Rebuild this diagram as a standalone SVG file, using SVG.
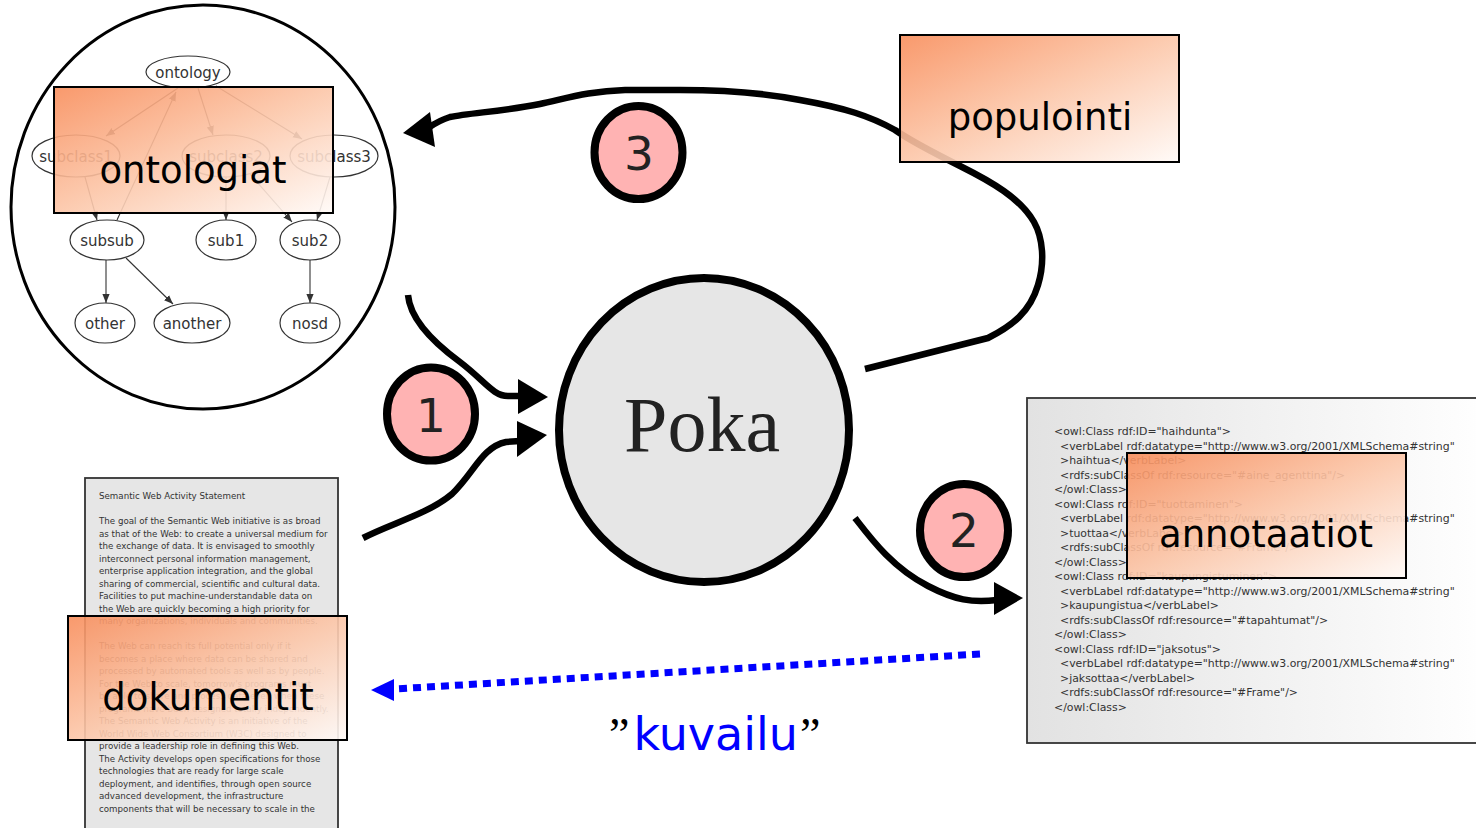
<svg xmlns="http://www.w3.org/2000/svg" width="1476" height="828" viewBox="0 0 1476 828">
<defs>
<linearGradient id="og" x1="0" y1="0" x2="1" y2="1">
<stop offset="0" stop-color="#f88e5c"/>
<stop offset="0.5" stop-color="#fcc6a8"/>
<stop offset="1" stop-color="#fffaf7"/>
</linearGradient>
<linearGradient id="cg" x1="0" y1="0" x2="1" y2="0">
<stop offset="0" stop-color="#e2e2e2"/>
<stop offset="1" stop-color="#ffffff"/>
</linearGradient>
<marker id="sa" viewBox="0 0 10 10" refX="10" refY="5" markerWidth="9" markerHeight="9" markerUnits="userSpaceOnUse" orient="auto">
<path d="M0,1 L10,5 L0,9 z" fill="#333"/>
</marker>
<style>
.big{fill:#fff;stroke:#000;stroke-width:3}
.sn{fill:#fff;stroke:#333;stroke-width:1.2}
.st{font-family:"DejaVu Sans",sans-serif;font-size:15px;fill:#333;text-anchor:middle}
.se{fill:none;stroke:#333;stroke-width:1.1;marker-end:url(#sa)}
.ov{fill:url(#og);fill-opacity:0.9;stroke:#000;stroke-width:2}
.ovt{font-family:"DejaVu Sans",sans-serif;font-size:37px;fill:#000;text-anchor:middle}
.num{fill:#ffb3b3;stroke:#000;stroke-width:8}
.numt{font-family:"DejaVu Sans",sans-serif;font-size:47px;fill:#222;text-anchor:middle}
.conn{fill:none;stroke:#000;stroke-width:6.5;stroke-linecap:butt;stroke-linejoin:round}
.ah{fill:#000}
.doc{font-family:"DejaVu Sans",sans-serif;font-size:8.7px;fill:#333}
.code{font-family:"DejaVu Sans",sans-serif;font-size:10.9px;fill:#333}
</style>
</defs>
<rect width="1476" height="828" fill="#fff"/>

<g id="ontology-graph">
<ellipse class="big" cx="203" cy="207" rx="192" ry="202"/>
<g id="ontology-edges">
<line class="se" x1="178" y1="88" x2="106" y2="136"/>
<line class="se" x1="198" y1="88" x2="213" y2="135"/>
<line class="se" x1="216" y1="86" x2="302" y2="139"/>
<line class="se" x1="117" y1="220" x2="176" y2="92"/>
<line class="se" x1="85" y1="177" x2="97" y2="220"/>
<line class="se" x1="226" y1="177" x2="226" y2="220"/>
<line class="se" x1="250" y1="174" x2="292" y2="222"/>
<line class="se" x1="330" y1="177" x2="317" y2="220"/>
<line class="se" x1="106" y1="260" x2="106" y2="303"/>
<line class="se" x1="126" y1="258" x2="173" y2="304"/>
<line class="se" x1="310" y1="260" x2="310" y2="303"/>
</g>
<g id="n-ontology"><ellipse class="sn" cx="188" cy="72" rx="42" ry="16"/><text class="st" x="188" y="78">ontology</text></g>
<g id="n-subclass1"><ellipse class="sn" cx="76" cy="156" rx="44" ry="21"/><text class="st" x="76" y="162">subclass1</text></g>
<g id="n-subclass2"><ellipse class="sn" cx="226" cy="156" rx="44" ry="21"/><text class="st" x="226" y="162">subclass2</text></g>
<g id="n-subclass3"><ellipse class="sn" cx="334" cy="156" rx="44" ry="21"/><text class="st" x="334" y="162">subclass3</text></g>
<g id="n-subsub"><ellipse class="sn" cx="107" cy="240" rx="37" ry="20"/><text class="st" x="107" y="246">subsub</text></g>
<g id="n-sub1"><ellipse class="sn" cx="226" cy="240" rx="30" ry="20"/><text class="st" x="226" y="246">sub1</text></g>
<g id="n-sub2"><ellipse class="sn" cx="310" cy="240" rx="30" ry="20"/><text class="st" x="310" y="246">sub2</text></g>
<g id="n-other"><ellipse class="sn" cx="105" cy="323" rx="30" ry="20"/><text class="st" x="105" y="329">other</text></g>
<g id="n-another"><ellipse class="sn" cx="192" cy="323" rx="38" ry="20"/><text class="st" x="192" y="329">another</text></g>
<g id="n-nosd"><ellipse class="sn" cx="310" cy="323" rx="30" ry="20"/><text class="st" x="310" y="329">nosd</text></g>
</g>

<g id="document">
<rect x="85" y="478" width="253" height="360" fill="#e6e6e6" stroke="#333" stroke-width="1.8"/>
<text class="doc" x="99" y="499">Semantic Web Activity Statement</text>
<text class="doc" x="99" y="524">The goal of the Semantic Web initiative is as broad</text>
<text class="doc" x="99" y="536.5">as that of the Web: to create a universal medium for</text>
<text class="doc" x="99" y="549">the exchange of data. It is envisaged to smoothly</text>
<text class="doc" x="99" y="561.5">interconnect personal information management,</text>
<text class="doc" x="99" y="574">enterprise application integration, and the global</text>
<text class="doc" x="99" y="586.5">sharing of commercial, scientific and cultural data.</text>
<text class="doc" x="99" y="599">Facilities to put machine-understandable data on</text>
<text class="doc" x="99" y="611.5">the Web are quickly becoming a high priority for</text>
<text class="doc" x="99" y="624">many organizations, individuals and communities.</text>
<text class="doc" x="99" y="649">The Web can reach its full potential only if it</text>
<text class="doc" x="99" y="661.5">becomes a place where data can be shared and</text>
<text class="doc" x="99" y="674">processed by automated tools as well as by people.</text>
<text class="doc" x="99" y="686.5">For the Web to scale, tomorrow's programs must</text>
<text class="doc" x="99" y="699">be able to share and process data even when these</text>
<text class="doc" x="99" y="711.5">programs have been designed totally independently.</text>
<text class="doc" x="99" y="724">The Semantic Web Activity is an initiative of the</text>
<text class="doc" x="99" y="736.5">World Wide Web Consortium (W3C) designed to</text>
<text class="doc" x="99" y="749">provide a leadership role in defining this Web.</text>
<text class="doc" x="99" y="761.5">The Activity develops open specifications for those</text>
<text class="doc" x="99" y="774">technologies that are ready for large scale</text>
<text class="doc" x="99" y="786.5">deployment, and identifies, through open source</text>
<text class="doc" x="99" y="799">advanced development, the infrastructure</text>
<text class="doc" x="99" y="811.5">components that will be necessary to scale in the</text>
</g>

<g id="code">
<rect x="1027" y="398" width="460" height="345" fill="url(#cg)" stroke="#333" stroke-width="1.8"/>
<text class="code" x="1054" y="435">&lt;owl:Class rdf:ID="haihdunta"&gt;</text>
<text class="code" x="1060" y="449.5">&lt;verbLabel rdf:datatype="http://www.w3.org/2001/XMLSchema#string"</text>
<text class="code" x="1060" y="464">&gt;haihtua&lt;/verbLabel&gt;</text>
<text class="code" x="1060" y="478.5">&lt;rdfs:subClassOf rdf:resource="#aine_agenttina"/&gt;</text>
<text class="code" x="1054" y="493">&lt;/owl:Class&gt;</text>
<text class="code" x="1054" y="507.5">&lt;owl:Class rdf:ID="tuottaminen"&gt;</text>
<text class="code" x="1060" y="522">&lt;verbLabel rdf:datatype="http://www.w3.org/2001/XMLSchema#string"</text>
<text class="code" x="1060" y="536.5">&gt;tuottaa&lt;/verbLabel&gt;</text>
<text class="code" x="1060" y="551">&lt;rdfs:subClassOf rdf:resource="#Frame"/&gt;</text>
<text class="code" x="1054" y="565.5">&lt;/owl:Class&gt;</text>
<text class="code" x="1054" y="580">&lt;owl:Class rdf:ID="kaupungistuminen"&gt;</text>
<text class="code" x="1060" y="594.5">&lt;verbLabel rdf:datatype="http://www.w3.org/2001/XMLSchema#string"</text>
<text class="code" x="1060" y="609">&gt;kaupungistua&lt;/verbLabel&gt;</text>
<text class="code" x="1060" y="623.5">&lt;rdfs:subClassOf rdf:resource="#tapahtumat"/&gt;</text>
<text class="code" x="1054" y="638">&lt;/owl:Class&gt;</text>
<text class="code" x="1054" y="652.5">&lt;owl:Class rdf:ID="jaksotus"&gt;</text>
<text class="code" x="1060" y="667">&lt;verbLabel rdf:datatype="http://www.w3.org/2001/XMLSchema#string"</text>
<text class="code" x="1060" y="681.5">&gt;jaksottaa&lt;/verbLabel&gt;</text>
<text class="code" x="1060" y="696">&lt;rdfs:subClassOf rdf:resource="#Frame"/&gt;</text>
<text class="code" x="1054" y="710.5">&lt;/owl:Class&gt;</text>
</g>

<g id="connectors">
<path class="conn" d="M865,369 L988,338 C1012,326 1030,312 1038,285 C1045,262 1043,238 1034,222 C1020,198 992,182 960,166 C930,151 908,139 895,130 C870,116 845,108 800,100 C760,92 720,90 680,90 L625,90 C590,91 568,98 540,104 C505,111 470,113 450,117 C440,120 434,124 428,128"/>
<polygon class="ah" points="403,133 430,112 435,147"/>
<path class="conn" d="M408,295 C410,318 430,340 460,362 C485,381 493,396 508,396 L522,396"/>
<polygon class="ah" points="548,397 518,379 518,414"/>
<path class="conn" d="M363,538 C392,523 428,514 452,494 C474,473 482,447 506,442 L520,441"/>
<polygon class="ah" points="547,435 517,421 517,457"/>
<path class="conn" d="M855,518 C872,540 893,568 928,586 C955,600 972,603 997,600"/>
<polygon class="ah" points="1023,598 994,582 994,615"/>
<path d="M980,654 L394,689" fill="none" stroke="#0000ff" stroke-width="7" stroke-dasharray="8 6"/>
<polygon points="371,690 394,679 394,701" fill="#0000ff"/>
</g>

<g id="poka">
<ellipse cx="704" cy="430" rx="145" ry="152" fill="#e6e6e6" stroke="#000" stroke-width="8"/>
<text x="702" y="451" font-family="'Liberation Serif',serif" font-size="78" fill="#222" text-anchor="middle">Poka</text>
</g>

<g id="step1"><ellipse class="num" cx="431" cy="414" rx="44" ry="46.5"/><text class="numt" x="431" y="432">1</text></g>
<g id="step2"><ellipse class="num" cx="964" cy="530.5" rx="44" ry="46.5"/><text class="numt" x="964" y="547">2</text></g>
<g id="step3"><ellipse class="num" cx="638.5" cy="152.5" rx="44" ry="46.5"/><text class="numt" x="639" y="170">3</text></g>

<g id="ontologiat"><rect class="ov" x="54" y="87" width="279" height="126"/><text class="ovt" x="193" y="183">ontologiat</text></g>
<g id="populointi"><rect class="ov" x="900" y="35" width="279" height="127"/><text class="ovt" x="1040" y="130">populointi</text></g>
<g id="annotaatiot"><rect class="ov" x="1127" y="453" width="279" height="125"/><text class="ovt" x="1266" y="547">annotaatiot</text></g>
<g id="dokumentit"><rect class="ov" x="68" y="616" width="279" height="124"/><text class="ovt" x="208" y="710">dokumentit</text></g>

<g id="kuvailu-label">
<text x="609" y="750" font-size="46"><tspan fill="#000" font-family="'Liberation Serif',serif">”</tspan><tspan fill="#0000ff" font-family="'DejaVu Sans',sans-serif" dx="4">kuvailu</tspan><tspan fill="#000" font-family="'Liberation Serif',serif" dx="2">”</tspan></text>
</g>
</svg>
